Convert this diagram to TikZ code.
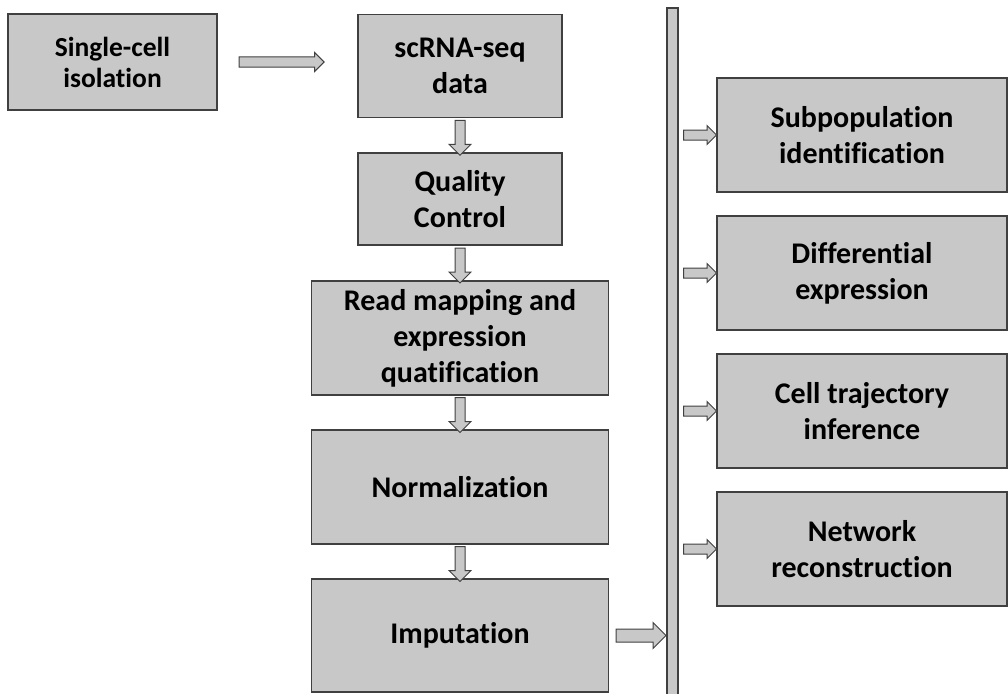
\documentclass[tikz,border=0pt]{standalone}
\usepackage{fontspec}
\setmainfont{Carlito}[Ligatures=NoCommon]
\usetikzlibrary{shapes.arrows}

\definecolor{boxfill}{RGB}{200,200,200}
\definecolor{boxline}{RGB}{64,64,64}

\tikzset{
  stepbox/.style={draw=boxline, fill=boxfill, line width=1.1pt, align=center,
    font=\fontsize{30}{36}\selectfont\bfseries, inner sep=0pt},
  blockarrow/.style={single arrow, draw=boxline, fill=boxfill, line width=1pt,
    inner sep=0pt, text height=4.5pt, text depth=4.5pt,
    single arrow head extend=4.5pt, sloped, allow upside down},
}

\begin{document}
\begin{tikzpicture}[x=1pt, y=-1pt]
    \def\gap{35pt}
    \useasboundingbox (0,0) rectangle (1008,693);

    % pipeline
    \node[stepbox, minimum width=209pt, minimum height=96pt, font=\fontsize{27.5}{31}\selectfont\bfseries] (iso) at (112.5,62) {Single-cell\\isolation};
    \node[stepbox, minimum width=204pt, minimum height=103pt] (scrna) at (460,66) {scRNA-seq\\data};
    \node[stepbox, minimum width=204pt, minimum height=92pt] (qc) at (460,199) {Quality\\Control};
    \node[stepbox, minimum width=297pt, minimum height=114pt] (map) at (460,338) {Read mapping and\\expression\\quatification};
    \node[stepbox, minimum width=297pt, minimum height=114pt] (norm) at (460,487) {Normalization};
    \node[stepbox, minimum width=297pt, minimum height=113pt] (imp) at (460,635.5) {Imputation};

    % bar
    \node[draw=boxline, fill=boxfill, line width=1.1pt, minimum width=11pt, minimum height=700pt, inner sep=0pt] (bar) at (672.5,358) {};

    % analyses
    \node[stepbox, minimum width=290pt, minimum height=114pt] (sub) at (862,135) {Subpopulation\\identification};
    \node[stepbox, minimum width=290pt, minimum height=114pt] (diff) at (862,273) {Differential\\expression};
    \node[stepbox, minimum width=290pt, minimum height=114pt] (traj) at (862,411) {Cell trajectory\\inference};
    \node[stepbox, minimum width=290pt, minimum height=114pt] (net) at (862,549) {Network\\reconstruction};

    % arrows
    \path (iso.east) -- node[blockarrow, minimum height=85pt, pos=0.44] {} (iso.east -| scrna.west);
    \path (scrna.south) -- node[blockarrow, minimum height=\gap, single arrow head extend=6pt] {} (qc.north);
    \path (qc.south) -- node[blockarrow, minimum height=\gap, single arrow head extend=6pt] {} (qc.south |- map.north);
    \path (map.south) -- node[blockarrow, minimum height=\gap, single arrow head extend=6pt] {} (norm.north);
    \path (norm.south) -- node[blockarrow, minimum height=\gap, single arrow head extend=6pt] {} (imp.north);
    \path (imp.east) -- node[blockarrow, minimum height=50pt, text height=6pt, text depth=6pt, single arrow head extend=6.5pt] {} (imp.east -| bar.west);
    \path (bar.east |- sub.west) -- node[blockarrow, minimum height=33pt] {} (sub.west);
    \path (bar.east |- diff.west) -- node[blockarrow, minimum height=33pt] {} (diff.west);
    \path (bar.east |- traj.west) -- node[blockarrow, minimum height=33pt] {} (traj.west);
    \path (bar.east |- net.west) -- node[blockarrow, minimum height=33pt] {} (net.west);
\end{tikzpicture}
\end{document}
